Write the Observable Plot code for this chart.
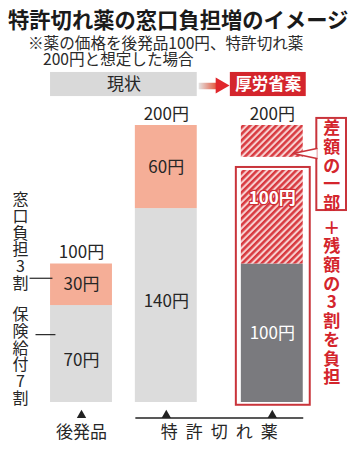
<!DOCTYPE html>
<html><head><meta charset="utf-8">
<script src="https://cdn.jsdelivr.net/npm/d3@7"></script>
<script src="https://cdn.jsdelivr.net/npm/@observablehq/plot@0.6"></script>
<style>
body{margin:0;background:#fff;font-family:"Noto Sans CJK JP","Noto Sans",sans-serif;}
#head{position:relative;width:356px;height:68px;}
#title{position:absolute;left:8px;top:6px;font-size:21.3px;font-weight:700;line-height:26px;color:#1a1a1a;white-space:nowrap;}
#sub{position:absolute;left:43px;top:34px;text-indent:-15px;font-size:15.6px;line-height:16px;color:#2a2a2a;white-space:nowrap;}
</style></head><body>
<div id="head"><div id="title">特許切れ薬の窓口負担増のイメージ</div><div id="sub">※薬の価格を後発品100円、特許切れ薬<br>200円と想定した場合</div></div>
<div id="chart"></div>
<script>
// ---- data ----
const categories = ["後発品", "現状", "厚労省案"];
const insurance = [70, 140, 100];          // 保険給付 (bottom part)
const copay = [30, 60, 100];               // 窓口負担 / 差額の一部 (top part)
const insuranceLabels = ["70円", "140円", "100円"];
const copayLabels = ["30円", "60円", "100円"];
const insuranceLabelAt = [30, 73, 50];
const copayLabelAt = [85, 170, 147];
const totalLabels = ["100円", "200円", "200円"];
const headers = ["現状", "厚労省案"];
const axisLabels = ["後発品", "特許切れ薬"];
const sideNotes = ["窓口負担3割", "保険給付7割"];
const calloutTop = "差額の一部";
const calloutBottom = "＋残額の3割を負担";

// ---- layout ----
const slot = {"後発品": 0, "現状": 4, "厚労省案": 9};
const H = 1.46;
const FONT = '"Noto Sans CJK JP","Noto Sans",sans-serif';
const RED = "#d4252c", LIGHT = "#dcdcdc", SALMON = "#f5ae97", DARK = "#7a7a7e", INK = "#262626";
const vert = s => Array.from(s).join("\n");

const rows = categories.map((c, i) => ({
  cat: c, x: slot[c], ins: insurance[i], cop: copay[i], total: insurance[i] + copay[i],
  insLabel: insuranceLabels[i], copLabel: copayLabels[i],
  insAt: insuranceLabelAt[i], copAt: copayLabelAt[i], totalLabel: totalLabels[i]
}));
const plan = rows.filter(d => d.cat === "厚労省案");
const now = rows.filter(d => d.cat !== "厚労省案");

const marks = [
  // header boxes + arrow
  Plot.rect([headers[0]], {x1: () => slot["後発品"] - H, x2: () => slot["現状"] + H, y1: () => 220.9, y2: () => 238.3, fill: "#d9d9d9"}),
  Plot.text([headers[0]], {x: () => (slot["後発品"] + slot["現状"]) / 2, y: () => 229.6, text: d => d, fontSize: 17, fill: INK}),
  Plot.rect([0], {x1: () => 5.55, x2: () => 6.40, y1: () => 225.8, y2: () => 230.5, fill: "url(#shaft)"}),
  Plot.dot([0], {x: () => 6.547, y: () => 228.9, symbol: "triangle", r: 5.94, rotate: 90, fill: "#e0262b", stroke: "none"}),
  Plot.rect([headers[1]], {x1: () => slot["厚労省案"] - H, x2: () => slot["厚労省案"] + H, y1: () => 220.9, y2: () => 238.3, insetLeft: -11, insetRight: -3, fill: RED}),
  Plot.text([headers[1]], {x: () => slot["厚労省案"], y: () => 229.6, dx: -4, text: d => d, fontSize: 16.5, fontWeight: 700, fill: "white"}),

  // bars
  Plot.rect(now, {x1: d => d.x - H, x2: d => d.x + H, y1: () => 0, y2: d => d.ins, fill: LIGHT}),
  Plot.rect(now, {x1: d => d.x - H, x2: d => d.x + H, y1: d => d.ins, y2: d => d.total, fill: SALMON}),
  Plot.rect(plan, {x1: d => d.x - H, x2: d => d.x + H, y1: () => 0, y2: d => d.ins, fill: DARK}),
  Plot.rect(plan, {x1: d => d.x - H, x2: d => d.x + H, y1: d => d.ins, y2: d => d.total, fill: "url(#hatch)"}),
  // white gap + red frame around the patient's share
  Plot.rect(plan, {x1: d => d.x - H, x2: d => d.x + H, y1: () => 167.5, y2: () => 177, insetLeft: -6, insetRight: -8, fill: "white"}),
  Plot.rect(plan, {x1: d => d.x - H, x2: d => d.x + H, y1: () => -2, y2: () => 169.7, insetLeft: -5, insetRight: -7, fill: "none", stroke: "#c9343b", strokeWidth: 2}),

  // segment labels
  Plot.text(now, {x: "x", y: "insAt", text: "insLabel", fontSize: 17, fill: INK}),
  Plot.text(now, {x: "x", y: "copAt", text: "copLabel", fontSize: 17, fill: INK}),
  Plot.text(plan, {x: "x", y: "insAt", text: "insLabel", fontSize: 17, fill: "white"}),
  Plot.text(plan, {x: "x", y: "copAt", text: "copLabel", fontSize: 17, fontWeight: 700, fill: "white", stroke: "#cf2d33", strokeWidth: 2.5}),
  Plot.text(rows, {x: "x", y: "total", dy: -11, text: "totalLabel", fontSize: 17, fill: INK}),

  // side notes
  Plot.text([sideNotes[0]], {x: () => -2.877, y: () => 116.2, text: d => vert(d), fontSize: 16, lineHeight: 1.05, fill: INK}),
  Plot.text([sideNotes[1]], {x: () => -2.877, y: () => 33.2, text: d => vert(d), fontSize: 16, lineHeight: 1.05, fill: INK}),
  Plot.link([0], {x1: () => -2.45, x2: () => -1.37, y1: () => 89.7, y2: () => 89.7, stroke: INK, strokeWidth: 1.2}),
  Plot.link([0], {x1: () => -2.17, x2: () => -1.23, y1: () => 49, y2: () => 49, stroke: INK, strokeWidth: 1.2}),

  // callout
  Plot.rect([calloutTop], {x1: () => 11.1, x2: () => 12.5, y1: () => 138.6, y2: () => 205.1, fill: "white", stroke: "#c9343b", strokeWidth: 2}),
  Plot.line([[11.1, 183.4], [9.99, 179.8], [11.1, 176.2]], {x: d => d[0], y: d => d[1], fill: "white", stroke: "#c9343b", strokeWidth: 1.6, curve: "linear"}),
  Plot.text([calloutTop], {x: () => 11.8, y: () => 171.1, text: d => vert(d), fontSize: 17, lineHeight: 1.1, fontWeight: 700, fill: RED}),
  Plot.text([calloutBottom], {x: () => 11.8, y: () => 72.2, text: d => vert(d), fontSize: 17, lineHeight: 1.1, fontWeight: 700, fill: RED}),

  // bottom axis
  Plot.link([0], {x1: () => slot["現状"] - H, x2: () => slot["厚労省案"] + H, y1: () => -11.2, y2: () => -11.2, stroke: "#222", strokeWidth: 1.5}),
  Plot.dot(rows, {x: "x", y: () => -9.2, symbol: "triangle", r: 3.5, fill: "#222", stroke: "none"}),
  Plot.text([axisLabels[0]], {x: () => slot["後発品"], y: () => -21.7, text: d => d, fontSize: 17, fill: INK}),
  Plot.text([axisLabels[1]], {x: () => (slot["現状"] + slot["厚労省案"]) / 2, y: () => -21.7, dx: 4, text: d => d, fontSize: 17, fill: INK})
];

const svg = Plot.plot({
  width: 356, height: 382,
  marginTop: 57, marginBottom: 48, marginLeft: 0, marginRight: 0,
  x: {domain: [-3.821, 12.972], axis: null},
  y: {domain: [0, 200], axis: null},
  style: {fontFamily: FONT, background: "white", overflow: "visible"},
  marks
});

d3.select(svg).selectAll("text").filter(function() { return this.textContent === axisLabels[1]; })
  .style("letter-spacing", "8px");

const defs = d3.select(svg).insert("defs", ":first-child");
const pat = defs.append("pattern").attr("id", "hatch").attr("patternUnits", "userSpaceOnUse")
  .attr("width", 4.6).attr("height", 4.6).attr("patternTransform", "rotate(45)");
pat.append("rect").attr("width", 4.6).attr("height", 4.6).attr("fill", "#f7cfcf");
pat.append("rect").attr("width", 2.5).attr("height", 4.6).attr("fill", "#d8393f");
const grad = defs.append("linearGradient").attr("id", "shaft").attr("x1", 0).attr("x2", 1).attr("y1", 0).attr("y2", 0);
grad.append("stop").attr("offset", "0").attr("stop-color", "#e4e4e4");
grad.append("stop").attr("offset", "1").attr("stop-color", "#e4553a");

document.getElementById("chart").appendChild(svg);
</script>
</body></html>
